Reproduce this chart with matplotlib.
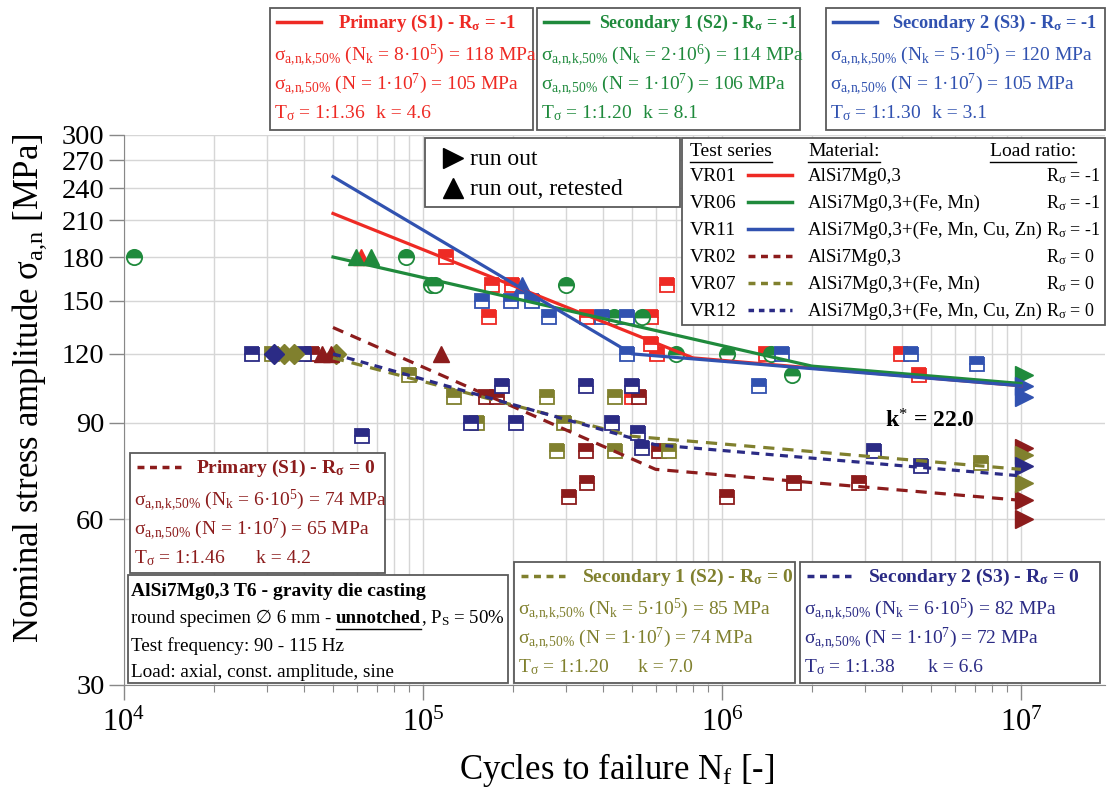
import matplotlib.pyplot as plt
from matplotlib.lines import Line2D
from matplotlib.patches import Rectangle
from matplotlib.ticker import FixedLocator, NullLocator, LogLocator, FuncFormatter, NullFormatter

plt.rcParams['font.family'] = ['Liberation Serif', 'DejaVu Serif', 'DejaVu Sans']
plt.rcParams['mathtext.fontset'] = 'custom'
plt.rcParams['mathtext.rm'] = 'Liberation Serif'
plt.rcParams['mathtext.it'] = 'Liberation Serif:italic'
plt.rcParams['mathtext.bf'] = 'Liberation Serif:bold'

RED = '#ee2a24'
GREEN = '#1f8a3c'
BLUE = '#3152b0'
DRED = '#8c1c1c'
OLIVE = '#80802e'
NAVY = '#2b2b85'

# fitted S-N curves (start, knee, 1e7)
vr01_line_n = [5e4, 8e5, 1e7]
vr01_line_s = [216, 118, 105]
vr06_line_n = [5e4, 2e6, 1e7]
vr06_line_s = [180, 114, 106]
vr11_line_n = [5e4, 5e5, 1e7]
vr11_line_s = [252, 120, 105]
vr02_line_n = [5e4, 6e5, 1e7]
vr02_line_s = [134, 74, 65]
vr07_line_n = [5e4, 5e5, 1e7]
vr07_line_s = [118, 85, 74]
vr12_line_n = [5e4, 6e5, 1e7]
vr12_line_s = [120, 82, 72]

# failures
vr01_n = [1.19e5, 1.70e5, 1.98e5, 1.66e5, 3.53e5, 5.8e5, 5.8e5, 6.06e5, 6.55e5, 1.4e6, 3.97e6, 4.56e6, 5.0e5]
vr01_s = [180, 160, 160, 140, 140, 140, 125, 120, 160, 120, 120, 110, 100]
vr06_n = [1.08e4, 8.8e4, 1.06e5, 1.1e5, 3.0e5, 4.35e5, 5.4e5, 7.0e5, 1.04e6, 1.46e6, 1.71e6]
vr06_s = [180, 180, 160, 160, 160, 140, 140, 120, 120, 120, 110]
vr11_n = [1.57e5, 1.97e5, 2.32e5, 2.64e5, 3.97e5, 4.8e5, 4.8e5, 1.33e6, 1.59e6, 4.28e6, 7.13e6]
vr11_s = [150, 150, 150, 140, 140, 140, 120, 105, 120, 120, 115]
vr02_n = [4.25e4, 1.63e5, 1.77e5, 3.08e5, 3.51e5, 3.53e5, 5.28e5, 6.15e5, 1.04e6, 1.74e6, 2.87e6]
vr02_s = [120, 100, 100, 66, 80, 70, 100, 80, 66, 70, 70]
vr07_n = [3.13e4, 8.98e4, 1.27e5, 1.52e5, 2.6e5, 2.96e5, 2.8e5, 4.4e5, 4.4e5, 6.65e5, 7.35e6]
vr07_s = [120, 110, 100, 90, 100, 90, 80, 100, 80, 80, 76]
vr12_n = [2.68e4, 4.0e4, 6.25e4, 1.45e5, 1.84e5, 2.05e5, 3.51e5, 4.29e5, 5.0e5, 5.24e5, 5.4e5, 3.22e6, 4.63e6]
vr12_s = [120, 120, 85, 90, 105, 90, 105, 90, 105, 86, 81, 80, 75]

# diamonds at 120 MPa
vr07_dia_n = [3.43e4, 3.7e4, 5.12e4]
vr07_dia_s = [120, 120, 120]
vr12_dia_n = [3.18e4]
vr12_dia_s = [120]

# run out, retested
vr01_ret_n, vr01_ret_s = [6.2e4], [180]
vr06_ret_n, vr06_ret_s = [5.95e4, 6.7e4], [180, 180]
vr11_ret_n, vr11_ret_s = [2.14e5], [160]
vr02_ret_n, vr02_ret_s = [4.6e4, 4.92e4, 1.15e5], [120, 120, 120]

# run outs at 1e7
vr06_ro_s = [110]
vr11_ro_s = [105, 100]
vr02_ro_s = [81, 65, 60]
vr07_ro_s = [78.5, 70]
vr12_ro_s = [75]
runout_n = 1.02e7

y_ticks = [30, 60, 90, 120, 150, 180, 210, 240, 270, 300]

W, H = 1107, 789
fig = plt.figure(figsize=(W / 100, H / 100), dpi=100)
ax = fig.add_axes([124 / W, 1 - 685 / H, (1105 - 124) / W, (685 - 135) / H])
ax.set_xscale('log')
ax.set_yscale('log')
ax.set_xlim(1e4, 1.91e7)
ax.set_ylim(30, 300)

ax.yaxis.set_major_locator(FixedLocator(y_ticks))
ax.yaxis.set_minor_locator(NullLocator())
ax.yaxis.set_major_formatter(FuncFormatter(lambda v, p: '%d' % round(v)))
ax.xaxis.set_major_locator(LogLocator(base=10))
ax.xaxis.set_minor_locator(LogLocator(base=10, subs=range(2, 10)))
ax.xaxis.set_minor_formatter(NullFormatter())
ax.grid(True, which='both', axis='x', color='#d6d6d6', lw=1.0, zorder=0)
ax.grid(True, which='major', axis='y', color='#d6d6d6', lw=1.0, zorder=0)
ax.tick_params(which='major', direction='out', length=11, width=1, color='#888888',
               labelsize=20.5, pad=3)
ax.tick_params(which='minor', direction='out', length=5, width=0.8, color='#888888')
ax.tick_params(axis='x', which='major', pad=6, labelsize=22)
for sp in ['top', 'right']:
    ax.spines[sp].set_visible(False)
for sp in ['left', 'bottom']:
    ax.spines[sp].set_color('#888888')

# curves
curves = [
    (vr01_line_n, vr01_line_s, RED, '-', None),
    (vr06_line_n, vr06_line_s, GREEN, '-', None),
    (vr11_line_n, vr11_line_s, BLUE, '-', None),
    (vr02_line_n, vr02_line_s, DRED, '--', (3.5, 2.5)),
    (vr07_line_n, vr07_line_s, OLIVE, '--', (3.5, 2.5)),
    (vr12_line_n, vr12_line_s, NAVY, '--', (2.5, 2.0)),
]
for n, s, c, ls, d in curves:
    line, = ax.plot(n, s, color=c, lw=2.3, ls=ls, zorder=4)
    if d:
        line.set_dashes(d)

# half filled markers
pts = [
    (vr01_n, vr01_s, RED, 's'),
    (vr06_n, vr06_s, GREEN, 'o'),
    (vr11_n, vr11_s, BLUE, 's'),
    (vr02_n, vr02_s, DRED, 's'),
    (vr07_n, vr07_s, OLIVE, 's'),
    (vr12_n, vr12_s, NAVY, 's'),
]
for n, s, c, m in pts:
    ax.plot(n, s, ls='none', marker=m, ms=10 if m == 's' else 11, fillstyle='top',
            mfc=c, markerfacecoloralt='white', mec=c, mew=1.3, zorder=3)

ax.plot(vr07_dia_n, vr07_dia_s, ls='none', marker='D', ms=10, color=OLIVE, zorder=3)
ax.plot(vr12_dia_n, vr12_dia_s, ls='none', marker='D', ms=10, color=NAVY, zorder=3)

for n, s, c in [(vr01_ret_n, vr01_ret_s, RED), (vr06_ret_n, vr06_ret_s, GREEN),
                (vr11_ret_n, vr11_ret_s, BLUE), (vr02_ret_n, vr02_ret_s, DRED)]:
    ax.plot(n, s, ls='none', marker='^', ms=12, color=c, zorder=3)

for s, c in [(vr02_ro_s, DRED), (vr07_ro_s, OLIVE), (vr12_ro_s, NAVY),
             (vr06_ro_s, GREEN), (vr11_ro_s, BLUE)]:
    ax.plot([runout_n] * len(s), s, ls='none', marker='>', ms=13, color=c,
            zorder=3, clip_on=False)

ax.text(3.5e6, 88, r'k$^{*}$ = 22.0', fontsize=17, fontweight='bold', zorder=5)

# ---------- annotation boxes in figure pixels ----------
def fx(px):
    return px / W


def fy(py):
    return 1 - py / H


def put(px, py, s, **kw):
    return fig.text(fx(px), fy(py), s, ha='left', va='baseline', zorder=7, **kw)


def box(x0, y0, x1, y1, ec='#5a5a5a'):
    fig.add_artist(Rectangle((fx(x0), fy(y1)), fx(x1) - fx(x0), fy(y0) - fy(y1),
                             transform=fig.transFigure, fc='white', ec=ec, lw=1.3, zorder=6))


def sample(x0, x1, py, c, ls='-', d=None):
    ln = Line2D([fx(x0), fx(x1)], [fy(py), fy(py)], transform=fig.transFigure,
                color=c, lw=2.5, ls=ls, zorder=7)
    if d:
        ln.set_dashes(d)
    fig.add_artist(ln)


renderer = fig.canvas.get_renderer()


def underline(t, c='black'):
    bb = t.get_window_extent(renderer)
    fig.add_artist(Line2D([bb.x0 / W, bb.x1 / W], [(bb.y0 - 2) / H] * 2,
                          transform=fig.transFigure, color=c, lw=1.0, zorder=7))


def param_box(x0, y0, x1, y1, c, ls, d, title, tx, tfs, nk, sk, s7, ts, k, kx, fs=14):
    box(x0, y0, x1, y1)
    sample(x0 + 7, x0 + 51, y0 + 14, c, ls, d)
    put(x0 + tx, y0 + 20, title, color=c, fontsize=tfs, fontweight='bold')
    put(x0 + 4, y0 + 53,
        r'σ$_{\rm a{,}n{,}k{,}50\%}$ (N$_{\rm k}$ = ' + nk + ') = ' + sk + ' MPa',
        color=c, fontsize=fs)
    put(x0 + 4, y0 + 82, r'σ$_{\rm a{,}n{,}50\%}$ (N = 1·10$^{7}$) = ' + s7 + ' MPa',
        color=c, fontsize=fs)
    put(x0 + 4, y0 + 110, r'T$_{\rm σ}$ = ' + ts, color=c, fontsize=fs)
    put(x0 + kx, y0 + 110, 'k = ' + k, color=c, fontsize=fs)


param_box(270, 8, 533, 130, RED, '-', None, r'Primary (S1) - R$_{\mathbf{σ}}$ = -1', 68, 13.5,
          r'8·10$^{5}$', '118', '105', '1:1.36', '4.6', 106)
param_box(537, 8, 800, 130, GREEN, '-', None, r'Secondary 1 (S2) - R$_{\mathbf{σ}}$ = -1', 62, 12.8,
          r'2·10$^{6}$', '114', '106', '1:1.20', '8.1', 106)
param_box(826, 8, 1105, 130, BLUE, '-', None, r'Secondary 2 (S3) - R$_{\mathbf{σ}}$ = -1', 66, 13.2,
          r'5·10$^{5}$', '120', '105', '1:1.30', '3.1', 106)
param_box(130, 453, 385, 573, DRED, '--', (2.0, 1.6), r'Primary (S1) - R$_{\mathbf{σ}}$ = 0', 66, 14,
          r'6·10$^{5}$', '74', '65', '1:1.46', '4.2', 126)
param_box(514, 562, 795, 683, OLIVE, '--', (2.0, 1.6), r'Secondary 1 (S2) - R$_{\mathbf{σ}}$ = 0', 68, 14,
          r'5·10$^{5}$', '85', '74', '1:1.20', '7.0', 124)
param_box(800, 562, 1100, 683, NAVY, '--', (2.0, 1.6), r'Secondary 2 (S3) - R$_{\mathbf{σ}}$ = 0', 68, 14,
          r'6·10$^{5}$', '82', '72', '1:1.38', '6.6', 128)

# specimen info box
box(128, 575, 508, 683)
put(131, 596, 'AlSi7Mg0,3 T6 - gravity die casting', fontsize=14, fontweight='bold')
x = 131
for txt, wt, ul in [('round specimen ∅ 6 mm - ', 'normal', False),
                    ('unnotched', 'bold', True),
                    (r', P$_{\rm S}$ = 50%', 'normal', False)]:
    t = put(x, 623, txt, fontsize=13.6, fontweight=wt)
    bb = t.get_window_extent(renderer)
    if ul:
        underline(t)
    x += bb.width
put(131, 651, 'Test frequency: 90 - 115 Hz', fontsize=13.8)
put(131, 677, 'Load: axial, const. amplitude, sine', fontsize=13.8)

# run out legend
box(425, 138, 680, 207)
fig.add_artist(Line2D([fx(453)], [fy(158)], transform=fig.transFigure, marker='>',
                      ms=14, color='black', ls='none', zorder=7))
fig.add_artist(Line2D([fx(453)], [fy(188)], transform=fig.transFigure, marker='^',
                      ms=14, color='black', ls='none', zorder=7))
put(470, 165, 'run out', fontsize=17)
put(470, 195, 'run out, retested', fontsize=17)

# test series table
box(682, 138, 1105, 325)
for px, txt in [(690, 'Test series'), (808, 'Material:'), (990, 'Load ratio:')]:
    underline(put(px, 156, txt, fontsize=14))
rows = [
    ('VR01', RED, '-', None, 'AlSi7Mg0,3', '-1'),
    ('VR06', GREEN, '-', None, 'AlSi7Mg0,3+(Fe, Mn)', '-1'),
    ('VR11', BLUE, '-', None, 'AlSi7Mg0,3+(Fe, Mn, Cu, Zn)', '-1'),
    ('VR02', DRED, '--', (2.0, 1.6), 'AlSi7Mg0,3', '0'),
    ('VR07', OLIVE, '--', (2.0, 1.6), 'AlSi7Mg0,3+(Fe, Mn)', '0'),
    ('VR12', NAVY, '--', (1.6, 1.4), 'AlSi7Mg0,3+(Fe, Mn, Cu, Zn)', '0'),
]
for i, (name, c, ls, d, mat, r) in enumerate(rows):
    yc = 175 + i * 27
    put(690, yc + 6, name, fontsize=14)
    sample(748, 792, yc, c, ls, d)
    put(808, yc + 6, mat, fontsize=13.6)
    put(1046, yc + 6, r'R$_{\rm σ}$ = ' + r, fontsize=13)

# axis titles
fig.text(fx(30), fy(388), r'Nominal stress amplitude σ$_{\rm a{,}n}$ [MPa]', rotation=90,
         ha='center', va='center', fontsize=25)
fig.text(fx(617), fy(770), r'Cycles to failure N$_{\rm f}$ [-]', ha='center', va='center',
         fontsize=25)

fig.savefig('out.png', dpi=100)
